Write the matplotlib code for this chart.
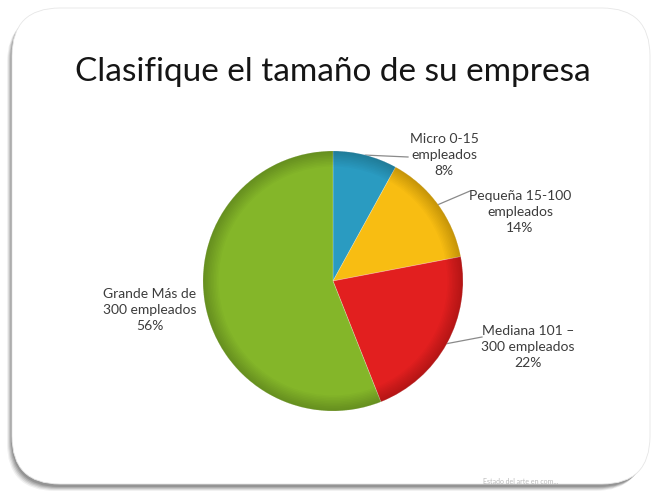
import matplotlib
matplotlib.use("Agg")
import matplotlib.pyplot as plt
from matplotlib.patches import FancyBboxPatch, Wedge
import numpy as np

categories = ["Micro 0-15\nempleados", "Pequeña 15-100\nempleados", "Mediana 101 –\n300 empleados", "Grande Más de\n300 empleados"]
values = [8, 14, 22, 56]
colors = ["#2a9bc1", "#f8bd12", "#e21f1f", "#84b629"]
title = "Clasifique el tamaño de su empresa"
footer = "Estado del arte en com..."

W, H = 655, 496
fig = plt.figure(figsize=(W / 100, H / 100), dpi=100)
fig.patch.set_facecolor("white")

# background frame with shadow
bg = fig.add_axes([0, 0, 1, 1])
bg.set_xlim(0, W)
bg.set_ylim(H, 0)
bg.axis("off")
for dx, dy, a in [(-5, 5, 0.08), (-4, 4, 0.12), (-3, 3, 0.16), (-2, 2, 0.2), (-1, 1, 0.25)]:
    bg.add_patch(FancyBboxPatch((12 + dx, 10 + dy), 636, 476, boxstyle="round,pad=0,rounding_size=48",
                                fc=(0.3, 0.3, 0.3, a), ec="none"))
bg.add_patch(FancyBboxPatch((12, 8), 638, 476, boxstyle="round,pad=0,rounding_size=48",
                            fc="white", ec=(0.9, 0.9, 0.9), lw=0.6))
bg.text(333, 72, title, ha="center", va="center", fontsize=24, family="Lato", color="#151515")
bg.text(483, 481, footer, ha="left", va="center", fontsize=5, family="Lato", color="#bbbbbb")

# pie
cx, cy, r = 333, 281, 130
ax = fig.add_axes([(cx - r) / W, (H - cy - r) / H, 2 * r / W, 2 * r / H])
wedges, _ = ax.pie(values, colors=colors, startangle=90, counterclock=False, radius=1,
                   wedgeprops=dict(linewidth=0.6, edgecolor=(1, 1, 1, 0.25)))
ax.set_xlim(-1, 1)
ax.set_ylim(-1, 1)
ax.axis("off")

# subtle shading toward the rim
for k in range(1, 11):
    ax.add_patch(Wedge((0, 0), 1, 0, 360, width=k * 0.012, fc=(0, 0, 0, 0.018), ec="none"))

# labels (positions in pixel coords of figure)
label_pos = [(444, 155), (520, 212), (528, 347), (150, 310)]
leader_end = [(408, 157), (470, 191), (482, 337), None]
for w, lab, v, (lx, ly), le in zip(wedges, categories, values, label_pos, leader_end):
    txt = f"{lab}\n{v}%"
    bg.text(lx, ly, txt, ha="center", va="center", fontsize=10, family="Lato",
            color="#3c3c3c", linespacing=1.4)
    if le is not None:
        ang = np.deg2rad((w.theta1 + w.theta2) / 2)
        sx = cx + r * np.cos(ang)
        sy = cy - r * np.sin(ang)
        bg.plot([sx, le[0]], [sy, le[1]], color="#8a8a8a", lw=0.9)

fig.savefig("out.png", dpi=100)
